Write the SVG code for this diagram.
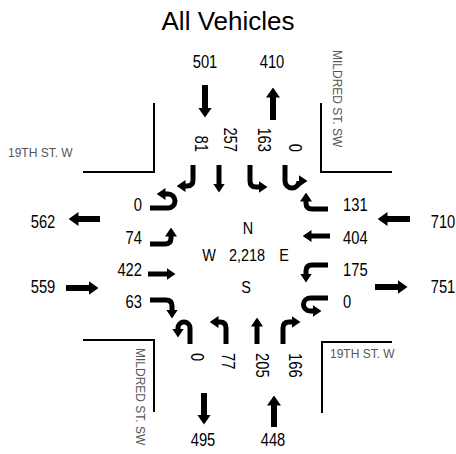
<svg xmlns="http://www.w3.org/2000/svg" width="456" height="454" viewBox="0 0 456 454">
<style>
.t{font-family:"Liberation Sans",Arial,sans-serif;font-size:18px;fill:#000}
.c{font-family:"Liberation Sans",Arial,sans-serif;font-size:17px;fill:#000}
.title{font-family:"Liberation Sans",Arial,sans-serif;font-size:26px;fill:#000}
.st{font-family:"Liberation Sans",Arial,sans-serif;font-size:12px;fill:#555}
.curb{fill:none;stroke:#000;stroke-width:2}
.a{fill:none;stroke:#000;stroke-width:5;marker-end:url(#h)}
.b{fill:none;stroke:#000;stroke-width:6;marker-end:url(#hb)}
</style>
<defs>
<marker id="h" markerUnits="userSpaceOnUse" markerWidth="9" markerHeight="12" viewBox="0 0 9 12" refX="0.5" refY="6" orient="auto"><path d="M0,0 L9,6 L0,12 z"/></marker>
<marker id="hb" markerUnits="userSpaceOnUse" markerWidth="10" markerHeight="14" viewBox="0 0 10 14" refX="0.5" refY="7" orient="auto"><path d="M0,0 L10,7 L0,14 z"/></marker>
</defs>
<rect width="456" height="454" fill="#fff"/>
<text class="title" x="228" y="30" text-anchor="middle">All Vehicles</text>

<g id="streets">
<path class="curb" d="M154,103 V172 H83"/>
<path class="curb" d="M321,103 V172 H392"/>
<path class="curb" d="M83,340 H154 V412"/>
<path class="curb" d="M392,342 H322 V413"/>
<text class="st" x="8" y="157">19TH ST. W</text>
<text class="st" x="330" y="358">19TH ST. W</text>
<text class="st" transform="translate(333,50) rotate(90)">MILDRED ST. SW</text>
<text class="st" transform="translate(136,348) rotate(90)">MILDRED ST. SW</text>
</g>

<g id="connectors">
<path class="b" d="M205,85 V108"/>
<path class="b" d="M273,120 V97"/>
<path class="b" d="M204,393 V415"/>
<path class="b" d="M274,427 V405"/>
<path class="b" d="M100,219 H78"/>
<path class="b" d="M66,288 H89"/>
<path class="b" d="M410,219 H387"/>
<path class="b" d="M375,287 H398"/>
</g>

<g id="north-approach">
<path class="a" d="M193,165 V180 Q193,186 187,186 H185"/>
<path class="a" d="M219,165 V184"/>
<path class="a" d="M250,165 V181 Q250,187 256,187 H259"/>
<path class="a" d="M285,165 V181 A7,7 0 0 0 299,181 V181"/>
<text class="t" transform="translate(195,152) rotate(90) scale(0.82,1)" text-anchor="end">81</text>
<text class="t" transform="translate(224,152) rotate(90) scale(0.82,1)" text-anchor="end">257</text>
<text class="t" transform="translate(258,152) rotate(90) scale(0.82,1)" text-anchor="end">163</text>
<text class="t" transform="translate(289,152) rotate(90) scale(0.82,1)" text-anchor="end">0</text>
<text class="t" transform="translate(205,68) scale(0.82,1)" text-anchor="middle">501</text>
<text class="t" transform="translate(272,68) scale(0.82,1)" text-anchor="middle">410</text>
</g>

<g id="west-approach">
<path class="a" d="M150,208 H168 A7,7 0 0 0 168,194 H165"/>
<path class="a" d="M150,244 H165 Q171,244 171,238 V236"/>
<path class="a" d="M148,274 H167"/>
<path class="a" d="M150,300 H166 Q172,300 172,306 V310"/>
<text class="t" transform="translate(142,211) scale(0.82,1)" text-anchor="end">0</text>
<text class="t" transform="translate(142,244) scale(0.82,1)" text-anchor="end">74</text>
<text class="t" transform="translate(142,276) scale(0.82,1)" text-anchor="end">422</text>
<text class="t" transform="translate(142,308) scale(0.82,1)" text-anchor="end">63</text>
<text class="t" transform="translate(43,228) scale(0.82,1)" text-anchor="middle">562</text>
<text class="t" transform="translate(43,293) scale(0.82,1)" text-anchor="middle">559</text>
</g>

<g id="east-approach">
<path class="a" d="M328,209 H312 Q306,209 306,203 V201"/>
<path class="a" d="M330,236 H311"/>
<path class="a" d="M328,265 H312 Q306,265 306,271 V274"/>
<path class="a" d="M328,298 H310 A6.5,6.5 0 0 0 310,311 H313"/>
<text class="t" transform="translate(343,211) scale(0.82,1)">131</text>
<text class="t" transform="translate(343,244) scale(0.82,1)">404</text>
<text class="t" transform="translate(343,276) scale(0.82,1)">175</text>
<text class="t" transform="translate(343,308) scale(0.82,1)">0</text>
<text class="t" transform="translate(443,228) scale(0.82,1)" text-anchor="middle">710</text>
<text class="t" transform="translate(443,293) scale(0.82,1)" text-anchor="middle">751</text>
</g>

<g id="south-approach">
<path class="a" d="M190,344 V328 A6,6 0 0 0 178,328 V329"/>
<path class="a" d="M226,344 V328 Q226,322 220,322 H218"/>
<path class="a" d="M257,344 V326"/>
<path class="a" d="M283,344 V328 Q283,322 289,322 H292"/>
<text class="t" transform="translate(191,353) rotate(90) scale(0.82,1)">0</text>
<text class="t" transform="translate(222,353) rotate(90) scale(0.82,1)">77</text>
<text class="t" transform="translate(256,353) rotate(90) scale(0.82,1)">205</text>
<text class="t" transform="translate(289,353) rotate(90) scale(0.82,1)">166</text>
<text class="t" transform="translate(203,446) scale(0.82,1)" text-anchor="middle">495</text>
<text class="t" transform="translate(273,446) scale(0.82,1)" text-anchor="middle">448</text>
</g>

<g id="center">
<text class="c" transform="translate(248,234) scale(0.85,1)" text-anchor="middle">N</text>
<text class="c" transform="translate(209,261) scale(0.85,1)" text-anchor="middle">W</text>
<text class="c" transform="translate(247,261) scale(0.85,1)" text-anchor="middle">2,218</text>
<text class="c" transform="translate(284,261) scale(0.85,1)" text-anchor="middle">E</text>
<text class="c" transform="translate(246,293) scale(0.85,1)" text-anchor="middle">S</text>
</g>
</svg>
